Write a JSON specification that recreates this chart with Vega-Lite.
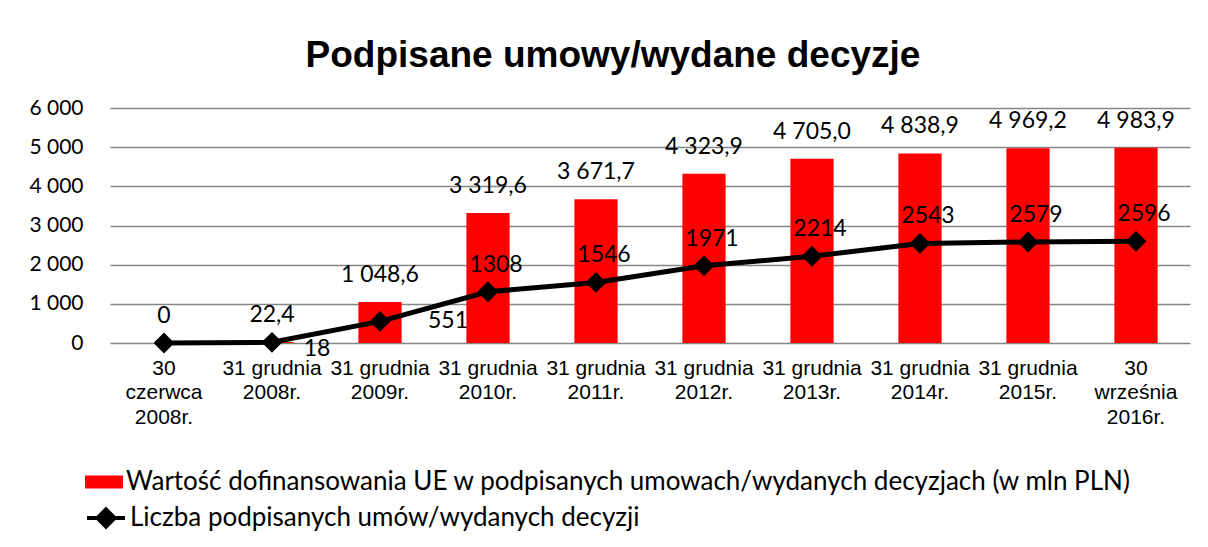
{
  "$schema": "https://vega.github.io/schema/vega-lite/v6.json",
  "autosize": {"type": "none"},
  "width": 1080,
  "height": 235,
  "padding": {"left": 110, "top": 108, "right": 18, "bottom": 204},
  "background": "white",
  "config": {
    "view": {"stroke": null},
    "axisY": {
      "title": null,
      "values": [0, 1000, 2000, 3000, 4000, 5000, 6000],
      "labelExpr": "replace(format(datum.value, ',d'), ',', ' ')",
      "labelOverlap": false,
      "labelFont": "Lato",
      "labelFontSize": 21,
      "labelColor": "black",
      "labelPadding": 27,
      "ticks": false,
      "domain": false,
      "gridColor": "#868686",
      "gridWidth": 1.5
    }
  },
  "title": {
    "text": "Podpisane umowy/wydane decyzje",
    "font": "Liberation Sans",
    "fontSize": 37,
    "fontWeight": "bold",
    "color": "black",
    "anchor": "middle",
    "dx": -37,
    "offset": 22
  },
  "data": {
    "values": [
      {"cat": "30|czerwca|2008r.", "wart": 0, "wartLabel": "0", "liczba": 0},
      {"cat": "31 grudnia|2008r.", "wart": 22.4, "wartLabel": "22,4", "liczba": 18},
      {"cat": "31 grudnia|2009r.", "wart": 1048.6, "wartLabel": "1 048,6", "liczba": 551},
      {"cat": "31 grudnia|2010r.", "wart": 3319.6, "wartLabel": "3 319,6", "liczba": 1308},
      {"cat": "31 grudnia|2011r.", "wart": 3671.7, "wartLabel": "3 671,7", "liczba": 1546},
      {"cat": "31 grudnia|2012r.", "wart": 4323.9, "wartLabel": "4 323,9", "liczba": 1971},
      {"cat": "31 grudnia|2013r.", "wart": 4705.0, "wartLabel": "4 705,0", "liczba": 2214},
      {"cat": "31 grudnia|2014r.", "wart": 4838.9, "wartLabel": "4 838,9", "liczba": 2543},
      {"cat": "31 grudnia|2015r.", "wart": 4969.2, "wartLabel": "4 969,2", "liczba": 2579},
      {"cat": "30|września|2016r.", "wart": 4983.9, "wartLabel": "4 983,9", "liczba": 2596}
    ]
  },
  "encoding": {
    "x": {
      "field": "cat",
      "type": "nominal",
      "sort": null,
      "scale": {"paddingInner": 0.6, "paddingOuter": 0.3},
      "axis": {
        "title": null,
        "labelAngle": 0,
        "labelExpr": "split(datum.label, '|')",
        "labelFont": "Liberation Sans",
        "labelFontSize": 21,
        "labelLineHeight": 24.5,
        "labelColor": "black",
        "labelPadding": 25,
        "labelBaseline": "middle",
        "ticks": false,
        "domain": false,
        "labelLimit": 0,
        "labelOverlap": false
      }
    }
  },
  "layer": [
    {
      "mark": {"type": "bar", "color": "#ff0000"},
      "encoding": {
        "y": {
          "field": "wart",
          "type": "quantitative",
          "scale": {"domain": [0, 6000], "nice": false},
          "axis": {"values": [0, 1000, 2000, 3000, 4000, 5000, 6000]}
        },
        "fill": {
          "datum": "Wartość dofinansowania UE w podpisanych umowach/wydanych decyzjach (w mln PLN)",
          "type": "nominal",
          "scale": {"range": ["#ff0000"]},
          "legend": {
            "title": null,
            "orient": "none",
            "legendX": -25,
            "legendY": 355,
            "symbolType": "M-1,-0.34H1V0.34H-1Z",
            "symbolSize": 1444,
            "symbolStrokeWidth": 0,
            "labelFont": "Lato",
            "labelFontSize": 26,
            "labelColor": "black",
            "labelOffset": 3,
            "labelLimit": 0
          }
        }
      }
    },
    {
      "mark": {"type": "text", "font": "Lato", "fontSize": 23, "color": "black", "baseline": "middle", "dy": -27},
      "encoding": {
        "y": {"field": "wart", "type": "quantitative", "axis": {"values": [0, 1000, 2000, 3000, 4000, 5000, 6000]}},
        "text": {"field": "wartLabel"}
      }
    },
    {
      "mark": {"type": "line", "strokeWidth": 5, "point": {"shape": "diamond", "size": 324, "filled": true, "color": "black"}},
      "encoding": {
        "y": {"field": "liczba", "type": "quantitative", "axis": {"values": [0, 1000, 2000, 3000, 4000, 5000, 6000]}},
        "stroke": {
          "datum": "Liczba podpisanych umów/wydanych decyzji",
          "type": "nominal",
          "scale": {"range": ["black"]},
          "legend": {
            "title": null,
            "orient": "none",
            "legendX": -25,
            "legendY": 389,
            "symbolType": "M-1,0H1M0,-0.45L0.45,0L0,0.45L-0.45,0Z",
            "symbolSize": 1444,
            "symbolStrokeWidth": 4,
            "symbolFillColor": "black",
            "symbolStrokeColor": "black",
            "labelFont": "Lato",
            "labelFontSize": 26,
            "labelColor": "black",
            "labelOffset": 3,
            "labelLimit": 0
          }
        }
      }
    },
    {
      "transform": [{"filter": "datum.liczba > 551"}],
      "mark": {"type": "text", "font": "Lato", "fontSize": 23, "color": "black", "baseline": "middle", "dx": 8, "dy": -27},
      "encoding": {
        "y": {"field": "liczba", "type": "quantitative", "axis": {"values": [0, 1000, 2000, 3000, 4000, 5000, 6000]}},
        "text": {"field": "liczba", "type": "quantitative", "format": "d"}
      }
    },
    {
      "transform": [{"filter": "datum.liczba == 18"}],
      "mark": {"type": "text", "font": "Lato", "fontSize": 23, "color": "black", "baseline": "middle", "dx": 45, "dy": 7},
      "encoding": {
        "y": {"field": "liczba", "type": "quantitative", "axis": {"values": [0, 1000, 2000, 3000, 4000, 5000, 6000]}},
        "text": {"field": "liczba", "type": "quantitative", "format": "d"}
      }
    },
    {
      "transform": [{"filter": "datum.liczba == 551"}],
      "mark": {"type": "text", "font": "Lato", "fontSize": 23, "color": "black", "baseline": "middle", "dx": 68, "dy": 0},
      "encoding": {
        "y": {"field": "liczba", "type": "quantitative", "axis": {"values": [0, 1000, 2000, 3000, 4000, 5000, 6000]}},
        "text": {"field": "liczba", "type": "quantitative", "format": "d"}
      }
    }
  ],
  "resolve": {"scale": {"fill": "independent", "stroke": "independent"}}
}
